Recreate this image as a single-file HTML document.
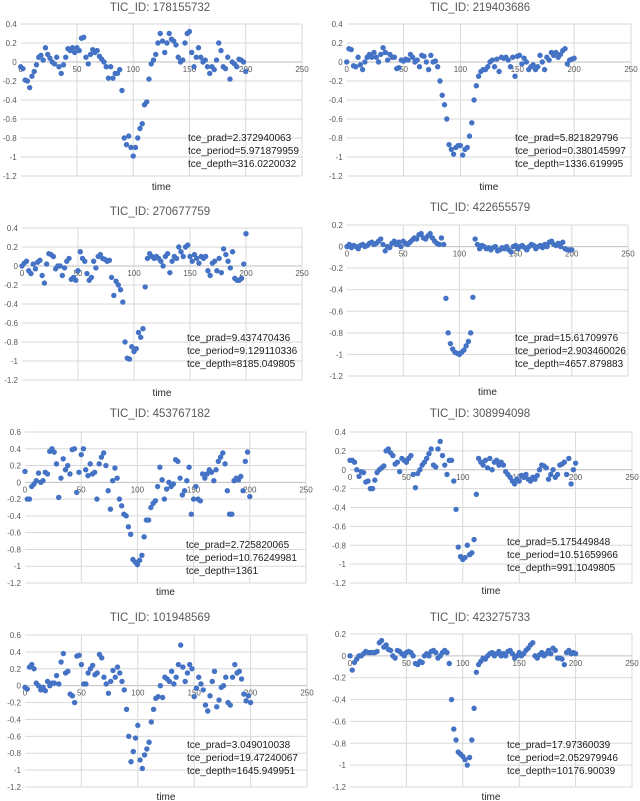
<!DOCTYPE html>
<html><head><meta charset="utf-8"><style>
html,body{margin:0;padding:0;background:#fff;}
svg{display:block;font-family:"Liberation Sans",sans-serif;}
</style></head><body>
<svg id="chart" width="640" height="801" viewBox="0 0 640 801" xmlns="http://www.w3.org/2000/svg"></svg>
<script>
const ticIds = ["178155732","219403686","270677759","422655579","453767182","308994098","101948569","423275733"];
const prads = ["2.372940063","5.821829796","9.437470436","15.61709976","2.725820065","5.175449848","3.049010038","17.97360039"];
const periods = ["5.971879959","0.380145997","9.129110336","2.903460026","10.76249981","10.51659966","19.47240067","2.052979946"];
const depths = ["316.0220032","1336.619995","8185.049805","4657.879883","1361","991.1049805","1645.949951","10176.90039"];
const xTicks = [0,50,100,150,200,250];
const yMaxes = [0.4,0.4,0.4,0.2,0.6,0.4,0.6,0.2];
const yMin = -1.2;
const tMax = 200;
const s1 = [-0.05,-0.07,-0.19,-0.2,-0.27,-0.15,-0.1,-0.03,0.05,0.07,
0.02,0.15,0.08,0.04,0.0,-0.02,0.05,-0.05,-0.12,-0.03,
0.05,0.14,0.12,0.15,0.1,0.15,0.12,0.25,0.26,0.05,
-0.02,0.08,0.13,0.1,0.12,0.06,0.03,0.0,-0.05,-0.17,
-0.05,-0.17,-0.12,-0.12,-0.08,-0.3,-0.8,-0.87,-0.78,-0.9,
-0.99,-0.9,-0.8,-0.7,-0.65,-0.45,-0.42,-0.18,-0.02,0.02,
0.08,0.2,0.3,0.22,0.1,0.2,0.3,0.24,0.22,0.18,
0.05,0.0,0.02,0.2,0.3,0.32,0.1,-0.05,0.05,0.15,
0.05,0.0,0.02,-0.05,-0.12,-0.05,-0.08,0.02,0.2,0.12,
-0.05,-0.07,0.05,-0.18,0.0,-0.02,-0.05,0.03,0.02,0.0,-0.1];
const s2 = [0.0,0.14,0.13,-0.04,-0.05,0.05,-0.03,-0.08,0.0,0.05,
0.08,0.05,0.1,0.05,0.0,0.08,0.15,0.1,0.02,0.08,
0.05,0.05,-0.07,-0.06,0.02,0.01,0.03,0.02,0.08,0.05,
0.0,0.02,-0.05,0.07,0.06,0.0,-0.08,0.07,0.0,0.01,
-0.05,-0.2,-0.35,-0.45,-0.6,-0.87,-0.92,-0.97,-0.9,-0.88,
-0.88,-0.98,-0.92,-0.9,-0.78,-0.64,-0.4,-0.25,-0.15,-0.1,
-0.08,-0.08,-0.05,0.0,0.02,-0.05,0.03,-0.1,0.05,0.04,
0.05,0.02,-0.05,0.05,-0.15,0.06,0.07,-0.02,0.04,0.0,
-0.08,-0.05,-0.03,-0.08,-0.05,0.07,0.0,-0.08,0.05,0.02,
0.1,0.07,0.1,0.05,0.08,0.12,0.14,-0.02,0.02,0.03,0.04];
const s3 = [0.0,0.03,0.05,-0.05,-0.08,0.02,-0.03,0.04,0.06,-0.1,
-0.18,0.02,0.13,0.12,0.1,-0.03,0.0,0.0,-0.1,-0.02,
0.05,0.08,-0.14,-0.12,-0.15,-0.05,0.15,0.08,0.05,-0.08,
-0.15,-0.12,0.05,-0.02,0.1,0.12,0.08,0.07,0.05,0.06,
-0.12,-0.31,-0.16,-0.2,-0.25,-0.38,-0.8,-0.97,-0.98,-0.85,
-0.9,-0.87,-0.7,-0.75,-0.66,-0.22,0.08,0.13,0.1,0.08,
0.1,0.08,0.05,0.0,0.1,0.13,-0.07,0.05,0.1,0.08,
0.2,0.15,0.1,0.2,0.22,0.1,0.05,0.12,0.08,0.03,
0.1,0.08,0.1,-0.05,-0.1,0.03,0.05,-0.05,0.08,-0.07,
0.18,0.12,0.05,-0.02,0.15,-0.13,-0.15,-0.15,-0.13,0.02,0.34];
const s4 = [0.0,0.02,-0.01,0.01,0.0,-0.02,0.01,0.02,0.0,0.01,
0.03,0.04,0.02,0.03,0.05,0.07,0.02,-0.04,0.0,-0.01,
0.03,0.05,0.02,0.04,0.0,0.05,0.03,0.02,0.04,0.06,
0.08,0.07,0.11,0.12,0.08,0.07,0.1,0.12,0.08,0.05,
0.03,0.02,0.08,0.02,-0.48,-0.8,-0.9,-0.95,-0.98,-0.99,
-1.0,-0.98,-0.96,-0.92,-0.88,-0.8,-0.47,0.07,0.02,-0.02,
0.01,0.0,-0.02,-0.01,-0.03,-0.01,0.0,-0.04,-0.03,-0.01,
-0.02,0.0,-0.03,-0.05,0.0,0.01,-0.02,0.0,0.01,-0.01,
-0.03,0.0,0.02,0.01,-0.02,0.0,0.01,-0.01,0.02,0.0,
0.04,0.05,0.02,0.01,0.03,0.0,0.04,-0.02,-0.03,-0.03,-0.03];
const s5 = [0.13,-0.2,-0.2,-0.05,-0.02,0.02,0.11,0.0,0.02,0.12,
0.1,0.37,0.4,0.36,0.22,-0.18,0.05,0.28,0.15,0.2,
0.1,0.39,0.4,-0.12,0.12,0.33,0.4,0.15,0.08,0.22,
0.1,0.12,-0.2,0.22,0.3,0.35,0.2,-0.1,-0.32,0.02,
0.17,0.05,-0.2,-0.28,-0.38,-0.4,-0.53,-0.62,-0.92,-0.95,
-0.98,-0.93,-0.87,-0.65,-0.45,-0.45,-0.3,-0.25,-0.22,-0.05,
0.18,0.03,-0.2,-0.08,0.0,-0.05,-0.02,0.27,0.25,0.05,
-0.15,-0.1,0.02,0.18,-0.38,-0.2,-0.05,-0.2,-0.22,0.1,
0.05,0.1,0.15,0.12,0.02,0.15,0.25,0.3,0.35,0.22,
-0.1,-0.38,-0.38,0.02,0.05,0.03,0.07,-0.1,0.25,0.36,-0.17];
const s6 = [0.1,0.1,0.08,0.0,-0.07,-0.02,-0.03,-0.13,-0.12,-0.2,
-0.2,-0.11,-0.03,0.0,0.02,0.04,0.2,0.22,0.18,0.15,
0.06,0.08,-0.02,0.12,0.1,0.08,0.12,0.15,-0.05,-0.19,
-0.04,0.0,0.05,0.08,0.12,0.17,0.22,0.05,0.03,0.22,
0.3,0.15,0.05,-0.05,0.1,0.1,-0.12,-0.42,-0.82,-0.92,
-0.95,-0.93,-0.8,-0.9,-0.88,-0.74,-0.26,0.12,0.08,0.05,
0.1,0.02,0.12,0.0,0.08,0.1,0.05,0.08,0.05,-0.02,
-0.05,-0.08,-0.12,-0.15,-0.1,-0.12,-0.06,-0.08,-0.05,-0.1,
-0.12,-0.08,-0.1,-0.06,0.0,0.05,0.04,0.02,-0.1,-0.05,
0.0,-0.08,-0.05,0.05,0.06,0.08,-0.05,0.12,-0.15,0.0,0.07];
const s7 = [-0.02,-0.04,0.22,0.25,0.2,0.03,0.0,-0.05,-0.02,-0.06,
0.05,0.0,0.03,0.03,0.12,0.02,0.28,0.38,0.15,0.17,
-0.1,-0.12,-0.2,0.35,0.36,0.25,0.02,0.02,0.15,0.2,
0.24,0.13,0.15,0.37,0.33,0.1,0.02,-0.09,0.05,0.18,
0.1,0.22,0.15,0.05,-0.05,-0.28,-0.6,-0.9,-0.78,-0.62,
-0.47,-0.88,-0.98,-0.82,-0.75,-0.67,-0.43,-0.28,-0.15,-0.13,
0.0,-0.14,0.1,0.08,0.05,0.17,0.02,0.1,0.25,0.48,
0.22,0.05,0.15,0.25,0.2,-0.13,-0.03,0.1,0.02,-0.05,
-0.23,-0.3,-0.12,0.05,0.17,-0.25,-0.17,-0.02,0.0,0.1,
-0.2,-0.23,0.1,0.25,0.15,0.17,0.08,-0.1,-0.18,-0.12,-0.2];
const s8 = [0.0,-0.13,-0.06,-0.03,0.0,0.0,0.02,0.04,0.03,0.03,
0.03,0.03,0.04,0.12,0.14,0.08,0.1,0.06,0.05,0.0,
-0.02,0.05,0.04,0.02,0.0,0.03,0.04,0.03,0.0,-0.07,
-0.08,-0.05,-0.06,0.0,0.02,0.0,0.04,0.05,0.03,-0.02,
0.0,0.03,0.05,0.03,-0.07,-0.4,-0.67,-0.77,-0.88,-0.9,
-0.92,-0.95,-1.0,-0.93,-0.77,-0.48,-0.15,-0.08,-0.05,-0.02,
-0.03,0.0,0.02,0.03,0.0,0.02,0.04,0.0,0.02,0.0,
0.04,0.05,0.02,-0.02,0.0,0.03,0.0,0.02,0.05,0.07,
0.1,0.12,0.0,-0.02,0.01,0.03,0.0,0.02,0.05,0.02,
0.07,0.05,-0.02,-0.02,-0.03,-0.08,0.03,0.05,0.02,0.03,0.02];
const seriesList = [s1,s2,s3,s4,s5,s6,s7,s8];

const layouts = [
 {ox:0,  x0:20.7,x1:302,yt:24, yb:176,ty:11, sx:188,sy:141,tmy:190},
 {ox:320,x0:346.7,x1:631,yt:24, yb:176,ty:11, sx:515,sy:141,tmy:190},
 {ox:0,  x0:22,x1:302,yt:228,yb:380,ty:215,sx:187,sy:341,tmy:396},
 {ox:320,x0:347,x1:628,yt:225,yb:376,ty:211,sx:515,sy:341,tmy:395},
 {ox:0,  x0:25,x1:306,yt:432,yb:583,ty:417,sx:186,sy:548,tmy:595},
 {ox:320,x0:350,x1:632,yt:432,yb:583,ty:417,sx:507,sy:545,tmy:594},
 {ox:0,  x0:25,x1:307,yt:635,yb:787,ty:621,sx:187,sy:748,tmy:800},
 {ox:320,x0:350,x1:632,yt:634,yb:787,ty:621,sx:507,sy:748,tmy:800}
];
const NS="http://www.w3.org/2000/svg";
const svg=document.getElementById('chart');
function mk(tag,attrs,parent){const e=document.createElementNS(NS,tag);for(const k in attrs)e.setAttribute(k,attrs[k]);parent.appendChild(e);return e;}

seriesList.forEach((data,p)=>{
  const L=layouts[p], yMax=yMaxes[p];
  const g=mk('g',{},svg);
  
  
  const xs=v=>L.x0+(v/250)*(L.x1-L.x0);
  const ys=v=>L.yt+(yMax-v)/(yMax-yMin)*(L.yb-L.yt);
  const nT=Math.round((yMax-yMin)/0.2);
  for(let i=0;i<=nT;i++){
    const v=Math.round((yMin+i*0.2)*10)/10;
    const y=ys(v);
    const ln=mk('line',{x1:L.x0,x2:L.x1,y1:y,y2:y,stroke:v===0?'#bfbfbf':'#d9d9d9','stroke-width':1},g);
    
    
    const t=mk('text',{x:L.x0-4,y:y+3,'text-anchor':'end','font-size':8,fill:'#595959'},g);
    
    
    t.textContent=String(v);
  }
  xTicks.forEach(tv=>{
    const x=xs(tv);
    if(tv>0){const ln=mk('line',{x1:x,x2:x,y1:L.yt,y2:L.yb,stroke:'#d9d9d9','stroke-width':1},g);
      
      }
    const t=mk('text',{x:x,y:ys(0)+10,'text-anchor':'middle','font-size':8,fill:'#595959'},g);
    
    
    t.textContent=String(tv);
  });
  const n=data.length;
  data.forEach((v,i)=>{
    const c=mk('circle',{cx:xs(i*tMax/(n-1)),cy:ys(v),r:2.7,fill:'#4472c4'},g);
    
    
  });
  const title=mk('text',{x:L.ox+160,y:L.ty,'text-anchor':'middle','font-size':11.5,fill:'#595959'},g);
  
  
  title.textContent='TIC_ID: '+ticIds[p];
  const xt=mk('text',{x:(L.x0+L.x1)/2,y:L.tmy,'text-anchor':'middle','font-size':10,fill:'#262626'},g);
  
  
  xt.textContent='time';
  const lines=['tce_prad='+prads[p],'tce_period='+periods[p],'tce_depth='+depths[p]];
  lines.forEach((s,k)=>{
    const t=mk('text',{x:L.sx,y:L.sy+k*13,'font-size':10,fill:'#1a1a1a'},g);
    
    
    t.textContent=s;
  });
});
</script>
</body></html>
